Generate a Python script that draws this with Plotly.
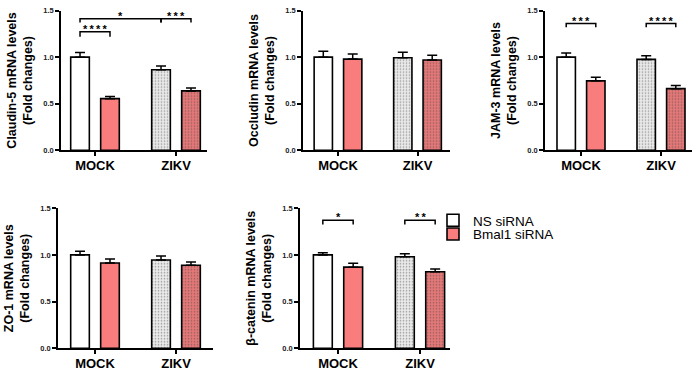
import plotly.graph_objects as go

W, H = 700, 374

# ---------------- data ----------------
groups = ["MOCK", "ZIKV"]
series_names = ["NS siRNA", "Bmal1 siRNA"]

titles = [
    "Claudin-5 mRNA levels",
    "Occludin mRNA levels",
    "JAM-3 mRNA levels",
    "ZO-1 mRNA levels",
    "β-catenin mRNA levels",
]
y_title_line2 = "(Fold changes)"

claudin5_ns = [1.0, 0.865]
claudin5_ns_sem = [0.049, 0.041]
claudin5_bmal1 = [0.555, 0.638]
claudin5_bmal1_sem = [0.023, 0.031]

occludin_ns = [1.0, 0.993]
occludin_ns_sem = [0.063, 0.059]
occludin_bmal1 = [0.979, 0.969]
occludin_bmal1_sem = [0.056, 0.052]

jam3_ns = [1.0, 0.976]
jam3_ns_sem = [0.045, 0.038]
jam3_bmal1 = [0.746, 0.662]
jam3_bmal1_sem = [0.038, 0.035]

zo1_ns = [1.0, 0.945]
zo1_ns_sem = [0.040, 0.042]
zo1_bmal1 = [0.914, 0.889]
zo1_bmal1_sem = [0.042, 0.035]

bcat_ns = [1.0, 0.98]
bcat_ns_sem = [0.022, 0.032]
bcat_bmal1 = [0.869, 0.82]
bcat_bmal1_sem = [0.041, 0.028]

y_tick_vals = [0.0, 0.5, 1.0, 1.5]
y_tick_text = ["0.0", "0.5", "1.0", "1.5"]

# significance: (group_a, series_a, group_b, series_b, label, bracket_top, leg_bottom)
claudin5_sig = [
    (0, 0, 0, 1, "****", 1.273, 1.22),
    (0, 0, 1, 0, "*", 1.413, 1.371),
    (1, 0, 1, 1, "***", 1.413, 1.371),
]
occludin_sig = []
jam3_sig = [
    (0, 0, 0, 1, "***", 1.36, 1.32),
    (1, 0, 1, 1, "****", 1.36, 1.32),
]
zo1_sig = []
bcat_sig = [
    (0, 0, 0, 1, "*", 1.371, 1.325),
    (1, 0, 1, 1, "**", 1.371, 1.325),
]

panels = [
    (claudin5_ns, claudin5_ns_sem, claudin5_bmal1, claudin5_bmal1_sem, claudin5_sig),
    (occludin_ns, occludin_ns_sem, occludin_bmal1, occludin_bmal1_sem, occludin_sig),
    (jam3_ns, jam3_ns_sem, jam3_bmal1, jam3_bmal1_sem, jam3_sig),
    (zo1_ns, zo1_ns_sem, zo1_bmal1, zo1_bmal1_sem, zo1_sig),
    (bcat_ns, bcat_ns_sem, bcat_bmal1, bcat_bmal1_sem, bcat_sig),
]

# ---------------- styles / layout ----------------
FONT = "Liberation Sans, Arial, sans-serif"
BARGAP = 0.26
BARGROUPGAP = 0.378
SLOT = (1 - BARGAP) / 2

ns_fill = ["#FFFFFF", "#EBEBEB"]
ns_pattern = ["", "."]
ns_fg = ["#FFFFFF", "#CACACA"]
bm_fill = ["#F97D7D", "#E57878"]
bm_pattern = ["", "."]
bm_fg = ["#F97D7D", "#C65C5C"]

# pixel geometry: (axis_left, axis_right, first_group_center, group_spacing, top, bottom)
geom = [
    (61, 207, 95, 81, 6.7, 150),
    (303, 450, 338, 79.5, 6.7, 150),
    (545, 692, 581, 80, 6.7, 150),
    (58, 213, 95, 81, 209.3, 352.7),
    (300, 450, 338, 82, 209.3, 352.7),
]

legend_style = dict(
    x=433 / W, xanchor="left", yanchor="top",
    bgcolor="rgba(0,0,0,0)", borderwidth=0,
    font=dict(family=FONT, size=13.5, color="black"),
    itemclick=False, itemdoubleclick=False,
)

fig = go.Figure()
layout = dict(
    width=W, height=H,
    margin=dict(l=0, r=0, t=0, b=0),
    paper_bgcolor="white", plot_bgcolor="white",
    barmode="group", bargap=BARGAP, bargroupgap=BARGROUPGAP,
    showlegend=True,
    font=dict(family=FONT, color="black"),
    legend=dict(y=1 - 206 / H, **legend_style),
    legend2=dict(y=1 - 220 / H, **legend_style),
)
annotations = []

for i, (ns, ns_sem, bm, bm_sem, sig) in enumerate(panels):
    k = "" if i == 0 else str(i + 1)
    xa, ya = "x" + k, "y" + k
    left, right, c0, sp, top, bottom = geom[i]
    xs = list(range(len(groups)))

    fig.add_trace(go.Bar(
        x=xs, y=ns, name=series_names[0], xaxis=xa, yaxis=ya,
        offsetgroup="ns", legend="legend", showlegend=(i == 0),
        marker=dict(color=ns_fill, line=dict(color="black", width=1.6),
                    pattern=dict(shape=ns_pattern, fgcolor=ns_fg, bgcolor=ns_fill,
                                 size=3, solidity=0.25)),
        error_y=dict(type="data", array=ns_sem, arrayminus=[0] * len(ns),
                     symmetric=False, color="black", thickness=1.5, width=5),
    ))
    fig.add_trace(go.Bar(
        x=xs, y=bm, name=series_names[1], xaxis=xa, yaxis=ya,
        offsetgroup="bm", legend="legend2", showlegend=(i == 0),
        marker=dict(color=bm_fill, line=dict(color="black", width=1.6),
                    pattern=dict(shape=bm_pattern, fgcolor=bm_fg, bgcolor=bm_fill,
                                 size=3, solidity=0.25)),
        error_y=dict(type="data", array=bm_sem, arrayminus=[0] * len(bm),
                     symmetric=False, color="black", thickness=1.5, width=5),
    ))

    # significance brackets
    for (ga, sa, gb, sb, lab, ytop, yleg) in sig:
        xa_pos = ga + (sa - 0.5) * SLOT
        xb_pos = gb + (sb - 0.5) * SLOT
        fig.add_trace(go.Scatter(
            x=[xa_pos, xa_pos, xb_pos, xb_pos], y=[yleg, ytop, ytop, yleg],
            mode="lines", line=dict(color="black", width=1.5),
            xaxis=xa, yaxis=ya, showlegend=False, hoverinfo="skip",
        ))
        annotations.append(dict(
            x=(xa_pos + xb_pos) / 2, y=ytop, xref=xa, yref=ya,
            text="\u2009".join(lab), showarrow=False,
            xanchor="center", yanchor="bottom", yshift=-5,
            font=dict(family=FONT, size=11, color="black", weight="bold"),
        ))

    rng_lo = (left - c0) / sp
    rng_hi = (len(groups) - 1) + (right - (c0 + sp * (len(groups) - 1))) / sp
    layout["xaxis" + k] = dict(
        domain=[left / W, right / W], anchor=ya,
        range=[rng_lo, rng_hi], tickvals=xs, ticktext=groups,
        showline=True, linecolor="black", linewidth=1.6,
        ticks="outside", ticklen=4, tickwidth=1.5, tickcolor="black",
        ticklabelstandoff=-2,
        showgrid=False, zeroline=False, fixedrange=True,
        tickfont=dict(family=FONT, size=13, color="black", weight="bold"),
    )
    layout["yaxis" + k] = dict(
        domain=[1 - bottom / H, 1 - top / H], anchor=xa,
        range=[0, 1.5], tickvals=y_tick_vals, ticktext=y_tick_text,
        showline=True, linecolor="black", linewidth=1.6,
        ticks="outside", ticklen=4, tickwidth=1.5, tickcolor="black",
        showgrid=False, zeroline=False, fixedrange=True,
        tickfont=dict(family=FONT, size=7.5, color="#222222", weight="bold"),
        title=dict(text=titles[i] + "<br>" + y_title_line2, standoff=8,
                   font=dict(family=FONT, size=12.5, color="black", weight="bold")),
    )

layout["annotations"] = annotations
fig.update_layout(**layout)
fig.write_html("out.html")
